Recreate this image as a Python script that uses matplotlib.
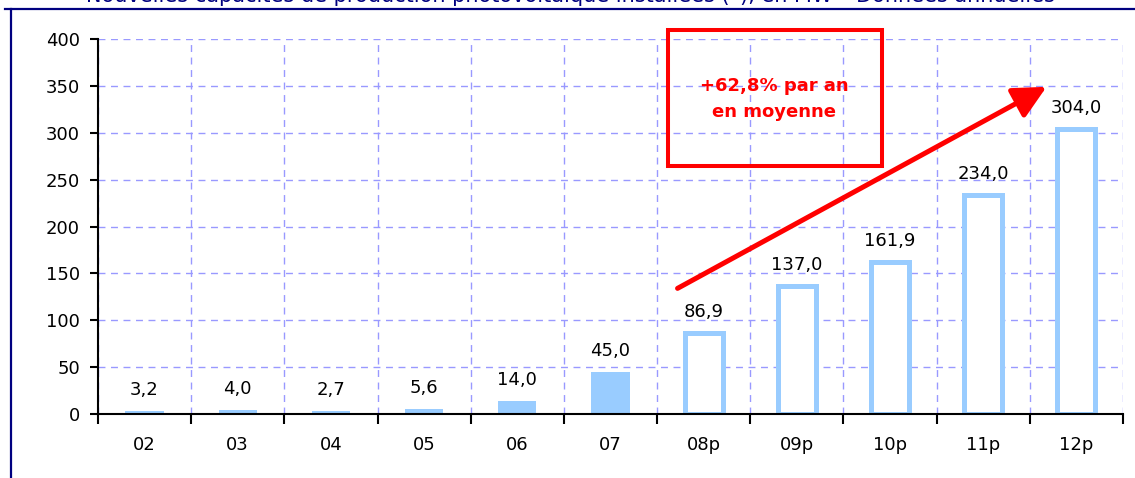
import matplotlib.pyplot as plt
from matplotlib.lines import Line2D
from matplotlib.patches import Rectangle
import numpy as np

# annual new photovoltaic capacity, MW
years = ["02", "03", "04", "05", "06", "07", "08p", "09p", "10p", "11p", "12p"]
capacity = [3.2, 4.0, 2.7, 5.6, 14.0, 45.0, 86.9, 137.0, 161.9, 234.0, 304.0]
is_forecast = [False] * 6 + [True] * 5

title = ("Nouvelles capacités de production photovoltaïque installées (*), "
         "en MW \u2013 Données annuelles")
growth_note = "+62,8% par an\nen moyenne"

BAR_BLUE = "#99CCFF"
GRID_BLUE = "#9999FF"
NAVY = "#000080"


def fr(v: float) -> str:
    return f"{v:.1f}".replace(".", ",")


def main() -> None:
    plt.rcParams["font.family"] = "DejaVu Sans"

    fig = plt.figure(figsize=(11.35, 4.78), dpi=100)
    ax = fig.add_axes([0.0863, 0.1339, 0.9031, 0.7845])

    x = np.arange(len(years))
    for xi, v, fc in zip(x, capacity, is_forecast):
        if fc:
            ax.bar(xi, v, width=0.41, facecolor="white", edgecolor=BAR_BLUE,
                   linewidth=3.6, zorder=3)
        else:
            ax.bar(xi, v, width=0.41, color=BAR_BLUE, linewidth=0, zorder=3)
        ax.annotate(fr(v), (xi, v), xytext=(0, 11.5), textcoords="offset points",
                    ha="center", va="baseline", fontsize=13)

    ax.set_xlim(-0.5, len(years) - 0.5)
    ax.set_ylim(0, 400)
    ax.set_yticks(range(0, 401, 50))

    # boundaries carry ticks + grid, centres carry the labels
    ax.set_xticks(np.arange(len(years) + 1) - 0.5)
    ax.set_xticklabels([])
    ax.set_xticks(x, minor=True)
    ax.set_xticklabels(years, minor=True)
    ax.tick_params(axis="x", which="major", length=7, width=1.5)
    ax.tick_params(axis="x", which="minor", length=0, pad=16, labelsize=13)
    ax.tick_params(axis="y", length=6, width=1.5, pad=7, labelsize=13)

    ax.grid(True, which="major", color=GRID_BLUE, linestyle=(0, (5, 4)),
            linewidth=1)
    ax.set_axisbelow(True)
    for side in ["top", "right"]:
        ax.spines[side].set_visible(False)
    for side in ["left", "bottom"]:
        ax.spines[side].set_linewidth(1.5)
        ax.spines[side].set_zorder(4)

    # growth arrow and callout box
    ax.annotate("", xy=(9.68, 349), xytext=(5.72, 134),
                arrowprops=dict(arrowstyle="-|>,head_length=0.8,head_width=0.4",
                                lw=3.6, color="red", mutation_scale=25,
                                shrinkA=0, shrinkB=0),
                annotation_clip=False, zorder=5)
    ax.add_patch(Rectangle((5.617, 264.5), 2.297, 145.1, fill=False,
                           edgecolor="red", linewidth=2.9, clip_on=False,
                           zorder=5))
    ax.text(6.76, 336, growth_note, ha="center", va="center", color="red",
            fontsize=13, fontweight="bold", linespacing=1.6, zorder=6)

    # frame and clipped title at the top (cut off in the source as well)
    fig.add_artist(Line2D([0.0097, 0.0097], [0.0, 0.981], color=NAVY,
                          linewidth=1.6, transform=fig.transFigure))
    fig.add_artist(Line2D([0.004, 1.0], [0.981, 0.981], color=NAVY,
                          linewidth=1.6, transform=fig.transFigure))
    fig.text(0.503, 0.9955, title, ha="center", va="baseline", color=NAVY,
             fontsize=15)

    fig.savefig("out.png", dpi=100)
    plt.close(fig)


if __name__ == "__main__":
    main()
